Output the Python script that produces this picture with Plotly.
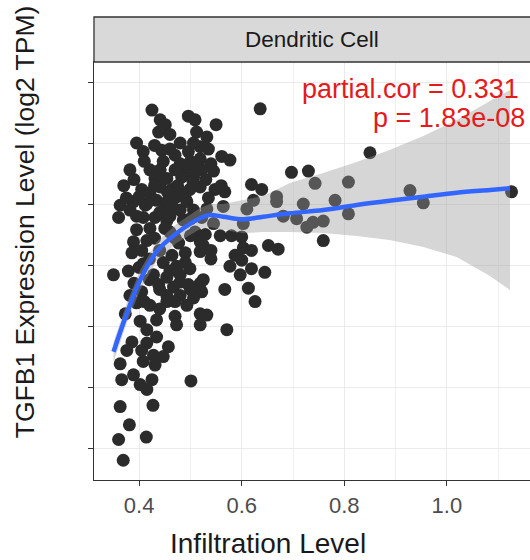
import plotly.graph_objects as go

# infiltration level (x) and TGFB1 expression (y) for each sample
infiltration = [
    0.425, 0.441, 0.451, 0.438, 0.460, 0.496, 0.509, 0.512, 0.395, 0.408,
    0.444, 0.496, 0.519, 0.532, 0.447, 0.382, 0.421, 0.431, 0.454, 0.490,
    0.483, 0.506, 0.522, 0.519, 0.405, 0.421, 0.441, 0.464, 0.499, 0.483,
    0.519, 0.636, 0.550, 0.506, 0.535, 0.850, 0.697, 0.730, 0.743, 0.619,
    0.808, 0.928, 0.441, 0.545, 0.639, 0.548, 0.567, 0.668, 0.561, 0.577,
    0.532, 0.564, 0.610, 0.623, 0.668, 0.681, 0.707, 0.727, 0.545, 0.603,
    0.529, 0.558, 0.580, 0.600, 0.525, 0.603, 0.619, 0.652, 0.671, 0.587,
    0.600, 0.577, 0.597, 0.619, 0.645, 0.525, 0.522, 0.567, 0.613, 0.626,
    0.571, 0.759, 0.720, 0.782, 0.808, 0.759, 0.954, 1.126, 0.739, 0.373,
    0.363, 0.360, 0.382, 0.389, 0.412, 0.434, 0.451, 0.467, 0.493, 0.506,
    0.408, 0.431, 0.454, 0.486, 0.522, 0.395, 0.421, 0.460, 0.509, 0.389,
    0.415, 0.477, 0.519, 0.386, 0.405, 0.464, 0.490, 0.519, 0.408, 0.447,
    0.473, 0.499, 0.350, 0.379, 0.428, 0.454, 0.480, 0.438, 0.467, 0.496,
    0.519, 0.405, 0.454, 0.480, 0.506, 0.382,
    0.395, 0.421, 0.454, 0.493, 0.519, 0.470, 0.434, 0.402, 0.473, 0.519,
    0.415, 0.434, 0.386, 0.415, 0.457, 0.376, 0.405, 0.428, 0.447, 0.363,
    0.408, 0.431, 0.389, 0.366, 0.425, 0.402, 0.415, 0.501, 0.363, 0.427,
    0.381, 0.360, 0.414, 0.369, 0.532,
    0.470, 0.480, 0.500, 0.510, 0.475, 0.490, 0.505, 0.530, 0.470, 0.455,
    0.430, 0.415, 0.440, 0.460, 0.480, 0.500, 0.395, 0.400, 0.375, 0.460,
    0.480, 0.430, 0.410, 0.390, 0.370, 0.450, 0.470, 0.430, 0.440, 0.500,
    0.490, 0.420, 0.400, 0.460, 0.440, 0.480, 0.420, 0.390, 0.410, 0.440,
    0.470, 0.500, 0.540, 0.540, 0.535, 0.560, 0.540, 0.470, 0.455,
]
expression = [
    5.77, 5.69, 5.65, 5.59, 5.57, 5.72, 5.69, 5.59, 5.50, 5.43,
    5.44, 5.43, 5.47, 5.55, 5.35, 5.28, 5.28, 5.21, 5.21, 5.29,
    5.22, 5.22, 5.28, 5.37, 5.12, 5.09, 5.14, 5.12, 5.12, 5.09,
    5.14, 5.78, 5.65, 5.50, 5.45, 5.42, 5.26, 5.27, 5.17, 5.16,
    5.18, 5.11, 5.28, 5.27, 5.12, 5.12, 5.10, 5.06, 5.39, 5.36,
    4.96, 4.98, 4.96, 5.03, 5.02, 4.90, 4.88, 4.81, 4.84, 4.84,
    4.75, 4.74, 4.74, 4.73, 4.66, 4.64, 4.62, 4.66, 4.63, 4.58,
    4.54, 4.49, 4.42, 4.47, 4.44, 4.38, 4.28, 4.30, 4.31, 4.20,
    3.97, 4.70, 5.00, 5.03, 4.92, 4.86, 5.01, 5.10, 4.85, 4.10,
    4.99, 4.89, 4.95, 5.02, 4.99, 5.03, 4.98, 4.96, 5.02, 4.95,
    4.89, 4.89, 4.86, 4.87, 4.89, 4.79, 4.80, 4.77, 4.77, 4.69,
    4.70, 4.68, 4.69, 4.60, 4.62, 4.58, 4.60, 4.61, 4.51, 4.52,
    4.49, 4.47, 4.42, 4.45, 4.42, 4.40, 4.42, 4.34, 4.32, 4.34,
    4.35, 4.28, 4.25, 4.25, 4.23, 4.25,
    4.19, 4.17, 4.20, 4.17, 4.10, 4.08, 4.05, 4.04, 4.01, 4.01,
    3.97, 3.91, 3.87, 3.86, 3.83, 3.80, 3.80, 3.76, 3.75, 3.69,
    3.71, 3.68, 3.60, 3.56, 3.56, 3.52, 3.48, 3.55, 3.34, 3.35,
    3.19, 3.07, 3.09, 2.90, 4.09,
    5.40, 5.33, 5.35, 5.30, 5.15, 5.05, 5.18, 5.20, 5.05, 5.10,
    5.15, 5.00, 4.93, 4.90, 4.95, 4.88, 4.90, 5.06, 5.05, 5.45,
    5.50, 5.48, 5.35, 5.20, 5.15, 4.80, 4.72, 4.72, 4.62, 4.74,
    4.52, 4.55, 4.48, 4.45, 4.30, 4.36, 4.38, 4.35, 4.20, 4.14,
    4.20, 4.30, 4.55, 4.62, 5.05, 5.15, 5.33, 5.28, 5.02,
]

# loess fit and its confidence band
smooth_x = [0.350, 0.376, 0.402, 0.434, 0.473, 0.519, 0.538, 0.564, 0.603,
            0.642, 0.694, 0.759, 0.824, 0.888, 0.954, 1.019, 1.084, 1.123]
smooth_y = [3.789, 4.104, 4.377, 4.609, 4.760, 4.883, 4.910, 4.896, 4.875,
            4.896, 4.924, 4.951, 4.992, 5.027, 5.060, 5.093, 5.115, 5.129]
smooth_hi = [3.869, 4.189, 4.459, 4.689, 4.836, 4.967, 5.000, 5.000, 5.033,
             5.066, 5.172, 5.254, 5.344, 5.443, 5.557, 5.689, 5.844, 5.934]
smooth_lo = [3.705, 4.025, 4.295, 4.533, 4.680, 4.795, 4.811, 4.787, 4.762,
             4.770, 4.770, 4.762, 4.738, 4.705, 4.648, 4.566, 4.410, 4.295]

x_ticks = [0.4, 0.6, 0.8, 1.0]
y_ticks = [3.0, 3.5, 4.0, 4.5, 5.0, 5.5, 6.0]

FONT = "Liberation Sans, Arial, sans-serif"

fig = go.Figure()

# points first, the smoother band is drawn on top of them like in ggplot
fig.add_trace(go.Scatter(
    x=infiltration, y=expression, mode="markers",
    marker=dict(size=13, color="#2b2b2b", line=dict(width=0)),
    showlegend=False, hoverinfo="skip"))

fig.add_trace(go.Scatter(
    x=smooth_x, y=smooth_lo, mode="lines", line=dict(width=0),
    showlegend=False, hoverinfo="skip"))
fig.add_trace(go.Scatter(
    x=smooth_x, y=smooth_hi, mode="lines", line=dict(width=0),
    fill="tonexty", fillcolor="rgba(153,153,153,0.4)",
    showlegend=False, hoverinfo="skip"))
fig.add_trace(go.Scatter(
    x=smooth_x, y=smooth_y, mode="lines", line=dict(color="#3366FF", width=4.5, shape="spline"),
    showlegend=False, hoverinfo="skip"))

fig.update_layout(
    width=530, height=560,
    margin=dict(l=94, r=0, t=62, b=80),
    paper_bgcolor="white", plot_bgcolor="white",
    font=dict(family=FONT, color="#1a1a1a"),
    xaxis=dict(
        range=[0.312, 1.162], tickvals=x_ticks, ticktext=[f"{v:.1f}" for v in x_ticks],
        tickfont=dict(size=22, color="#4d4d4d"), ticks="outside", ticklen=5,
        tickcolor="#333333", tickwidth=1.2,
        showgrid=True, gridcolor="#ebebeb", gridwidth=1.3,
        minor=dict(dtick=0.1, tick0=0.3, showgrid=True, gridcolor="#f0f0f0", gridwidth=0.7),
        showline=True, linecolor="#333333", linewidth=1.3, mirror=True, zeroline=False),
    yaxis=dict(
        range=[2.738, 6.164], tickvals=y_ticks, showticklabels=False,
        ticks="outside", ticklen=5, tickcolor="#333333", tickwidth=1.2,
        showgrid=True, gridcolor="#ebebeb", gridwidth=1.3,
        showline=True, linecolor="#333333", linewidth=1.3, zeroline=False),
)

# facet strip
fig.add_shape(type="rect", xref="paper", yref="paper", x0=0, x1=1.01, y0=1, y1=1.1077,
              fillcolor="#d9d9d9", line=dict(color="#333333", width=1.3), layer="above")
fig.add_annotation(text="Dendritic Cell", xref="paper", yref="paper", x=0.5, y=1.054,
                   showarrow=False, font=dict(size=22.5, color="#1a1a1a"), yanchor="middle")

# correlation label
fig.add_annotation(text="partial.cor = 0.331", xref="paper", yref="paper", x=0.98, y=0.935,
                   xanchor="right", yanchor="middle", showarrow=False,
                   font=dict(size=27, color="#e41a1c"))
fig.add_annotation(text="p = 1.83e-08", xref="paper", yref="paper", x=0.992, y=0.865,
                   xanchor="right", yanchor="middle", showarrow=False,
                   font=dict(size=27, color="#e41a1c"))

# axis titles
fig.add_annotation(text="Infiltration Level", xref="paper", yref="paper", x=0.399, y=-0.151,
                   showarrow=False, font=dict(size=28, color="#1a1a1a"), yanchor="middle")
fig.add_annotation(text="TGFB1 Expression Level (log2 TPM)", xref="paper", yref="paper",
                   x=-0.158, y=0.617, textangle=-90, showarrow=False,
                   font=dict(size=26.5, color="#1a1a1a"), xanchor="center", yanchor="middle")

# the page's default body margin would push the 530x560 figure out of the window
fig.write_html("out.html", config={"displayModeBar": False},
               post_script="document.body.style.margin='0';")
